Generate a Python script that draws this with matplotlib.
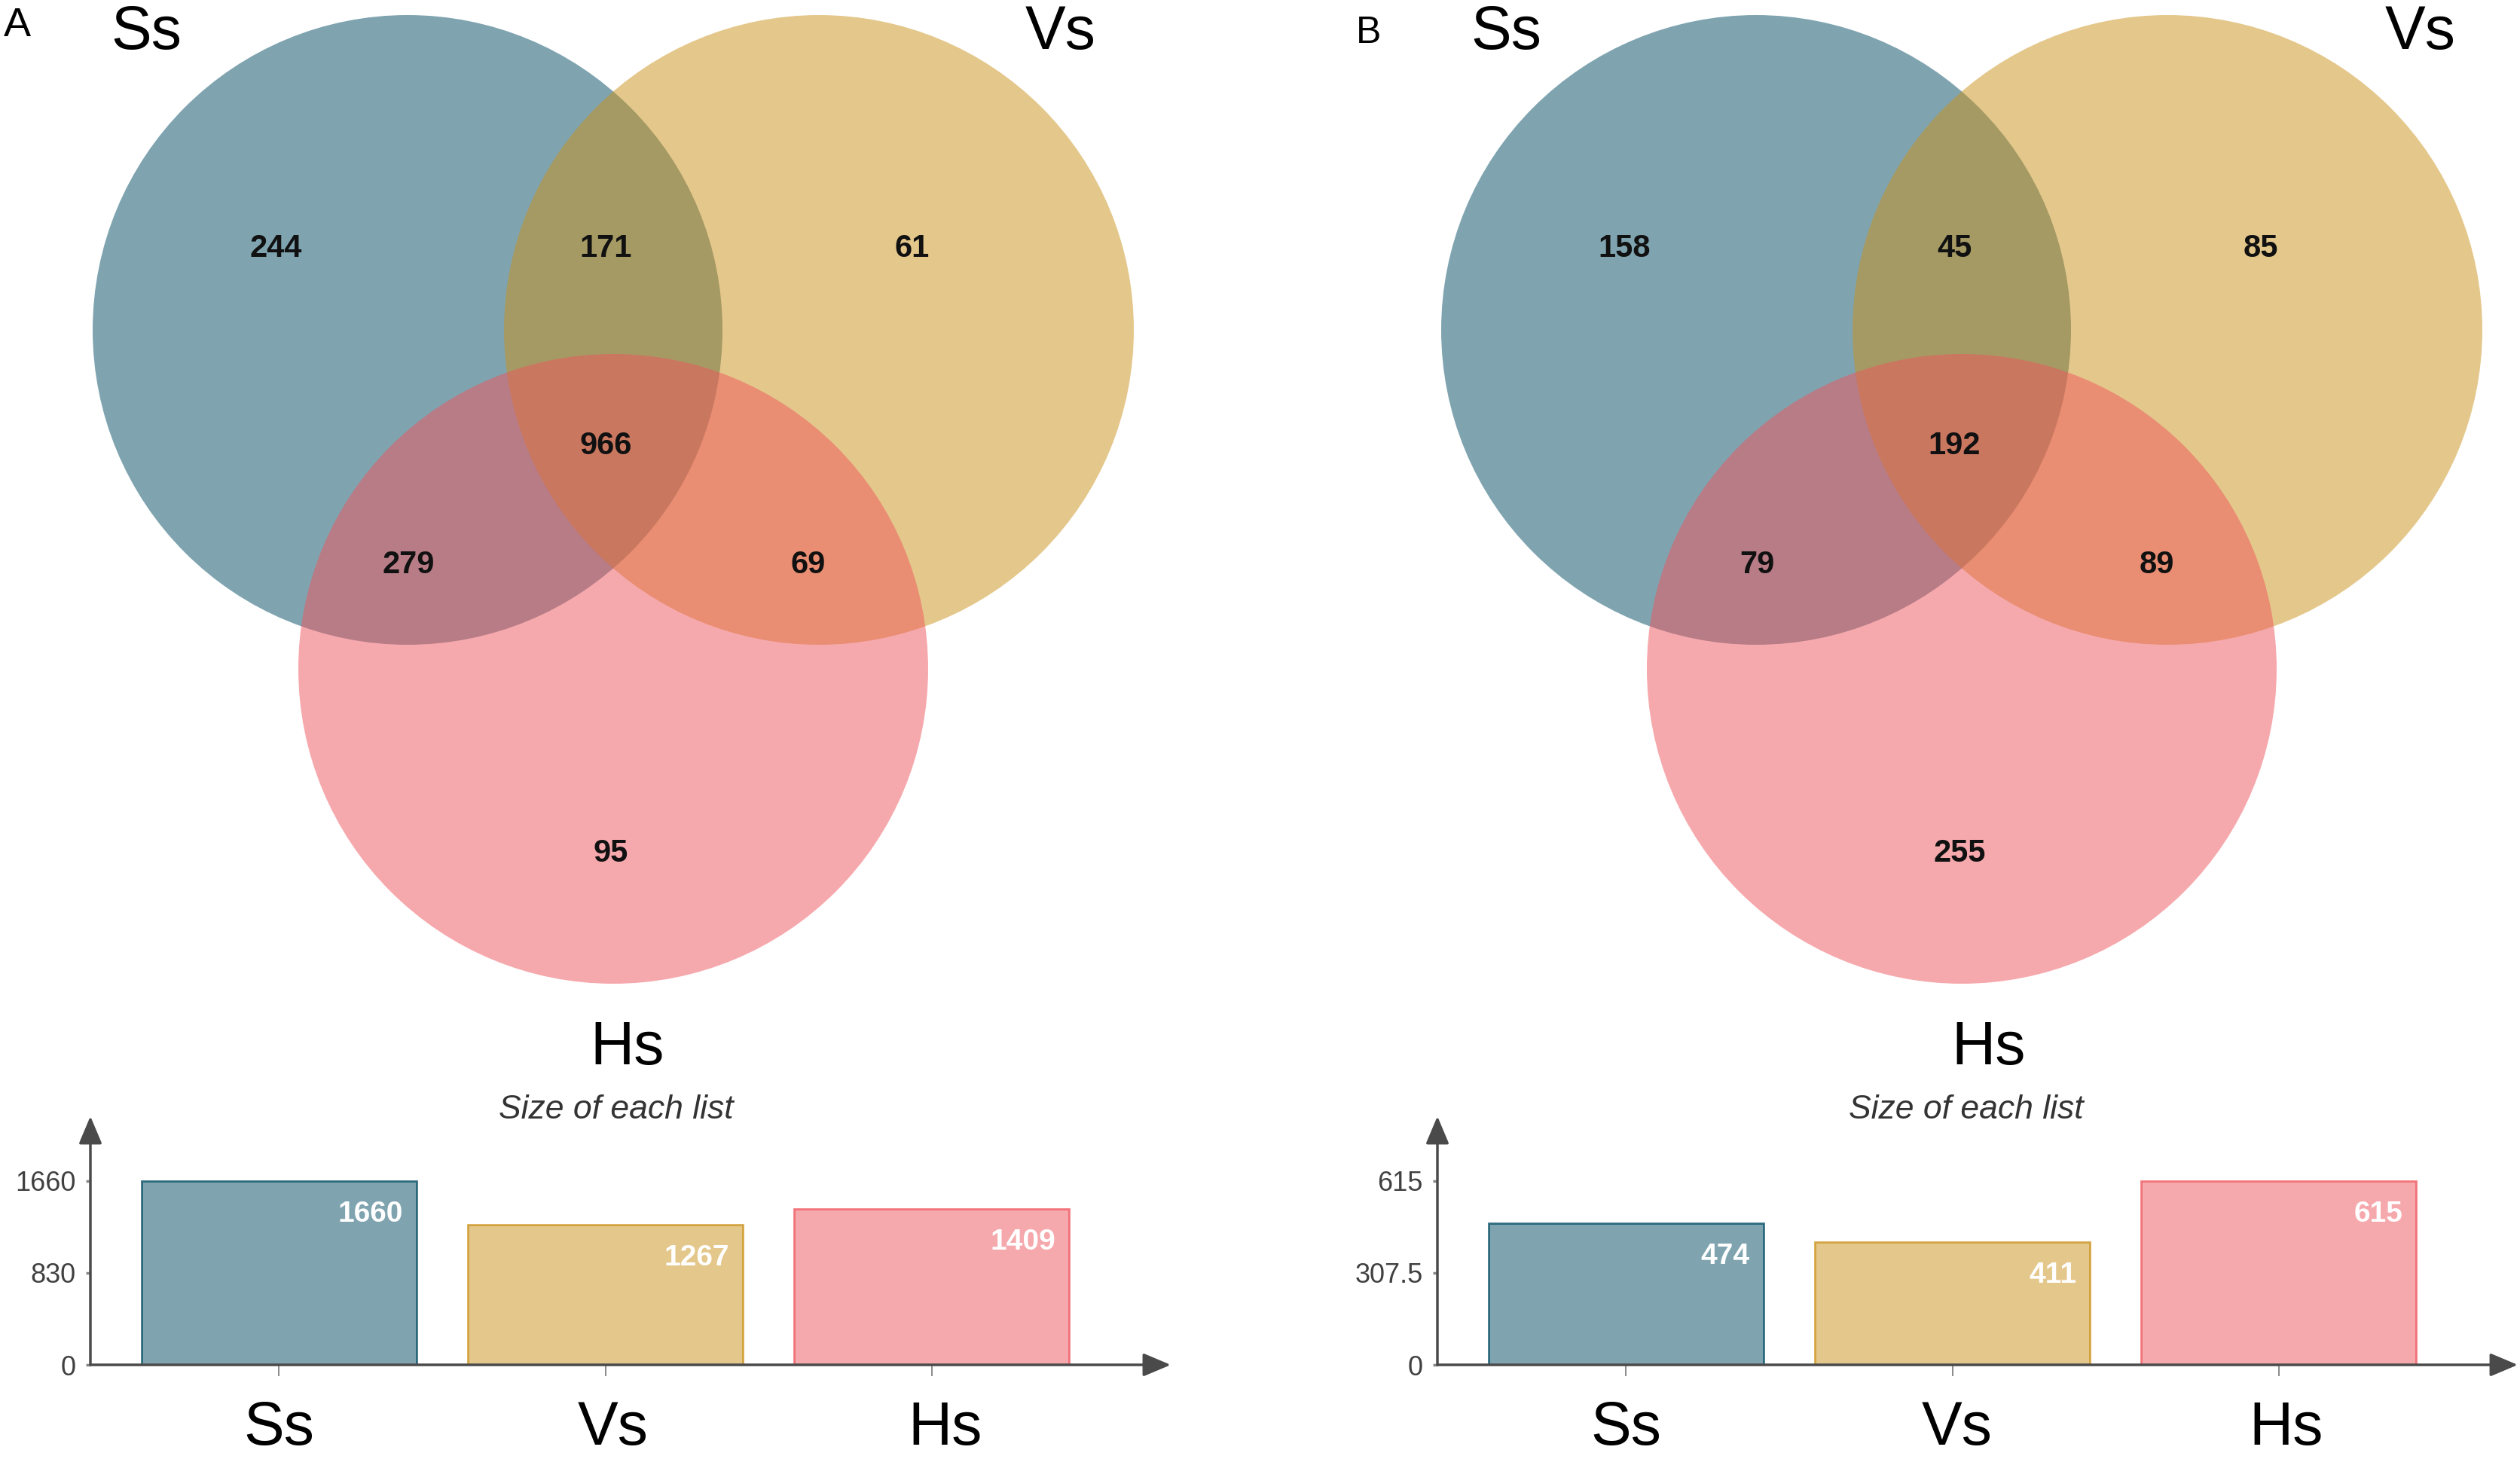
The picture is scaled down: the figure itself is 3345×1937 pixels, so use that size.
import matplotlib
matplotlib.use("Agg")
import matplotlib.pyplot as plt
from matplotlib.patches import Circle
from matplotlib.colors import to_rgba

# data
set_names = ["Ss", "Vs", "Hs"]
# regions: Ss only, Ss&Vs, Vs only, Ss&Vs&Hs, Ss&Hs, Vs&Hs, Hs only
counts_a = [244, 171, 61, 966, 279, 69, 95]
counts_b = [158, 45, 85, 192, 79, 89, 255]
sizes_a = [1660, 1267, 1409]
sizes_b = [474, 411, 615]

base_colors = ["#004B63", "#CB9119", "#EF555D"]
axis_col = "#4a4a4a"

plt.rcParams["font.family"] = ["Liberation Sans", "DejaVu Sans"]

W, H = 3345, 1937
fig = plt.figure(figsize=(W / 100, H / 100), dpi=100)
canvas = fig.add_axes([0, 0, 1, 1])
canvas.set_xlim(0, W)
canvas.set_ylim(H, 0)
canvas.axis("off")

# venn layout (pixels, panel A)
R = 418
centers = [(541, 438), (1087, 438), (814, 888)]
region_pos = [(366, 326), (804, 326), (1211, 326), (804, 588),
              (542, 746), (1073, 746), (811, 1129)]


def draw_venn(dx, counts, letter, letter_xy, letter_size, name_x, hs_x, sub_x):
    for (cx, cy), col in zip(centers, base_colors):
        canvas.add_patch(Circle((cx + dx, cy), R, facecolor=col, alpha=0.5, lw=0))
    for (x, y), n in zip(region_pos, counts):
        canvas.text(x + dx, y + 15, str(n), ha="center", va="baseline",
                    fontsize=30, fontweight="bold", color="#111111")
    canvas.text(letter_xy[0], letter_xy[1], letter, ha="center", va="baseline",
                fontsize=letter_size, color="black")
    canvas.text(name_x[0], 65, set_names[0], ha="center", va="baseline", fontsize=58)
    canvas.text(name_x[1], 65, set_names[1], ha="center", va="baseline", fontsize=58)
    canvas.text(hs_x, 1413, set_names[2], ha="center", va="baseline", fontsize=58)
    canvas.text(sub_x, 1485, "Size of each list", ha="center", va="baseline",
                fontsize=32, style="italic", color="#333333")


def draw_bars(left_px, sizes, label_shift):
    bx = fig.add_axes([left_px / W, (H - 1812) / H, 1434 / W, 330 / H])
    bx.set_facecolor("none")
    top = max(sizes)
    bx.set_ylim(0, top / 0.74)
    bx.set_xlim(-0.578, 2.732)
    bw = 0.843
    xs = range(len(sizes))
    bx.bar(xs, sizes, width=bw,
           color=[to_rgba(c, 0.5) for c in base_colors],
           edgecolor=[to_rgba(c, 0.75) for c in base_colors],
           linewidth=2)
    for i, v in zip(xs, sizes):
        bx.annotate(str(v), xy=(i + bw / 2, v), xytext=(-13, -39),
                    textcoords="offset points", ha="right", va="baseline",
                    color="white", fontsize=28, fontweight="bold")
    for s in bx.spines.values():
        s.set_visible(False)
    arrow = dict(arrowstyle="-|>,head_length=0.45,head_width=0.19",
                 mutation_scale=50, lw=2.5, color=axis_col,
                 shrinkA=0, shrinkB=0)
    bx.annotate("", xy=(0, 1), xytext=(0, 0), xycoords="axes fraction",
                arrowprops=arrow, annotation_clip=False)
    bx.annotate("", xy=(1, 0), xytext=(0, 0), xycoords="axes fraction",
                arrowprops=arrow, annotation_clip=False)
    ticks = [0, top / 2, top]
    bx.set_yticks(ticks)
    bx.set_yticklabels([f"{t:g}" for t in ticks])
    bx.tick_params(axis="y", length=4, width=2.5, color="#888888",
                   labelsize=26, labelcolor="#404040", pad=10)
    bx.set_xticks(list(xs))
    bx.set_xticklabels([])
    bx.tick_params(axis="x", length=11, width=1.2, color="#777777")
    for i, name in zip(xs, set_names):
        bx.annotate(name, xy=(i, 0), xycoords=("data", "axes fraction"),
                    xytext=(label_shift[i], -76), textcoords="offset points",
                    ha="center", va="baseline", fontsize=58, color="black",
                    annotation_clip=False)


draw_venn(0, counts_a, "A", (23, 48), 39, (194, 1408), 833, 818)
draw_venn(1790, counts_b, "B", (1817, 57), 36, (1999, 3213), 2640, 2610)
draw_bars(120, sizes_a, [0, 7, 13])
draw_bars(1908, sizes_b, [0, 4, 7])

fig.savefig("out.png", dpi=100)
